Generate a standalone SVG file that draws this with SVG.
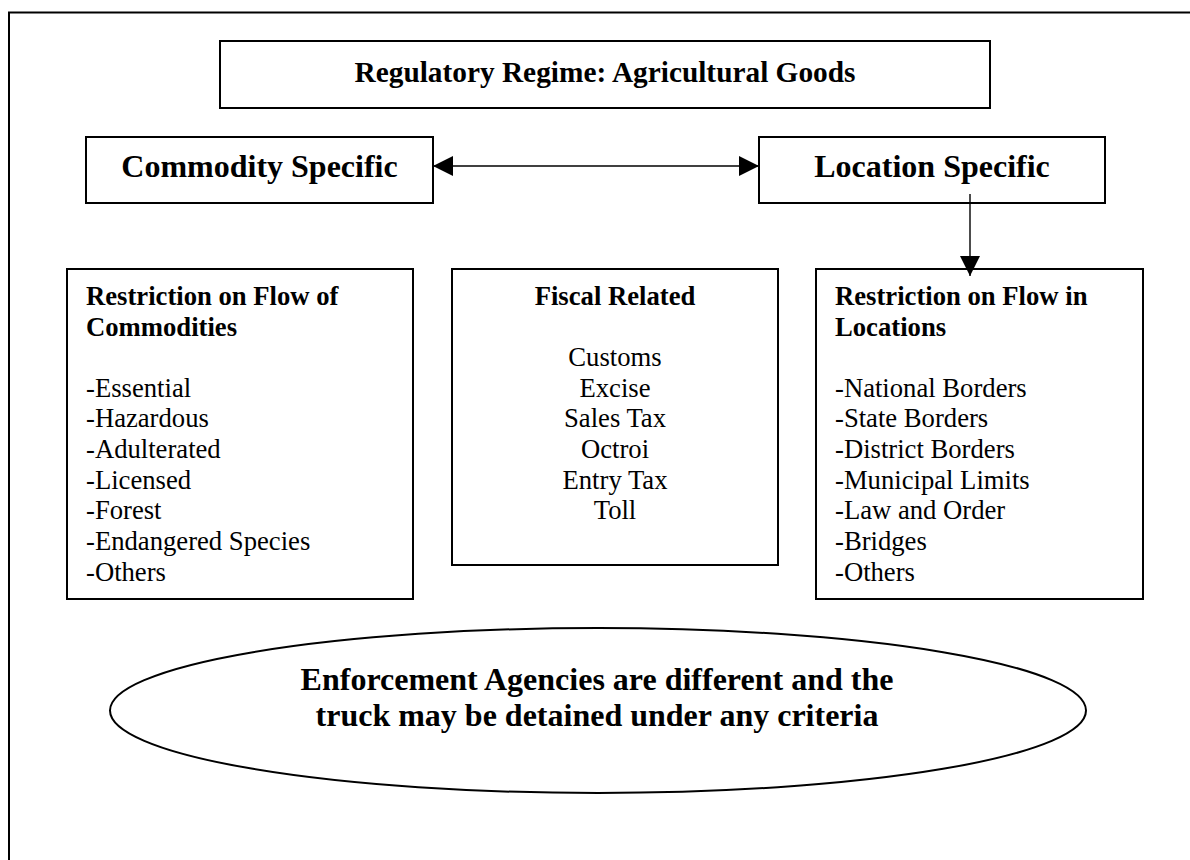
<svg xmlns="http://www.w3.org/2000/svg" width="1190" height="860" viewBox="0 0 1190 860">
<defs>
<style>
.box{fill:#fff;stroke:#000;stroke-width:2}
.t{font-family:"Liberation Serif","Times New Roman",serif;fill:#000}
.b{font-weight:bold}
.h32{font-size:32px}
.s27{font-size:26.67px}
.conn{stroke:#000;stroke-width:1.4;fill:none}
</style>
<marker id="ah" viewBox="0 0 20 20" refX="20" refY="10" markerWidth="20" markerHeight="20" markerUnits="userSpaceOnUse" orient="auto-start-reverse">
<path d="M0,0 L20,10 L0,20 z" fill="#000"/>
</marker>
</defs>
<rect width="1190" height="860" fill="#fff"/>
<g id="frame">
<path d="M9,860 V12.5 H1190" fill="none" stroke="#000" stroke-width="2"/>
</g>
<g id="node-regime">
<rect class="box" x="220" y="41" width="770" height="67"/>
<text class="t b" x="605" y="82" text-anchor="middle" font-size="29.33">Regulatory Regime: Agricultural Goods</text>
</g>
<g id="node-commodity">
<rect class="box" x="86" y="137" width="347" height="66"/>
<text class="t b h32" x="259.5" y="177" text-anchor="middle">Commodity Specific</text>
</g>
<g id="node-location">
<rect class="box" x="759" y="137" width="346" height="66"/>
<text class="t b h32" x="932" y="177" text-anchor="middle">Location Specific</text>
</g>
<g id="node-restriction-commodities">
<rect class="box" x="67" y="269" width="346" height="330"/>
<text class="t b s27" x="86" y="305">Restriction on Flow of</text>
<text class="t b s27" x="86" y="335.7">Commodities</text>
<text class="t s27" x="86" y="396.7">-Essential</text>
<text class="t s27" x="86" y="427.4">-Hazardous</text>
<text class="t s27" x="86" y="458">-Adulterated</text>
<text class="t s27" x="86" y="488.7">-Licensed</text>
<text class="t s27" x="86" y="519.4">-Forest</text>
<text class="t s27" x="86" y="550">-Endangered Species</text>
<text class="t s27" x="86" y="580.7">-Others</text>
</g>
<g id="node-fiscal">
<rect class="box" x="452" y="269" width="326" height="296"/>
<text class="t b s27" x="615" y="305" text-anchor="middle">Fiscal Related</text>
<text class="t s27" x="615" y="366" text-anchor="middle">Customs</text>
<text class="t s27" x="615" y="396.7" text-anchor="middle">Excise</text>
<text class="t s27" x="615" y="427.4" text-anchor="middle">Sales Tax</text>
<text class="t s27" x="615" y="458" text-anchor="middle">Octroi</text>
<text class="t s27" x="615" y="488.7" text-anchor="middle">Entry Tax</text>
<text class="t s27" x="615" y="519.4" text-anchor="middle">Toll</text>
</g>
<g id="node-restriction-locations">
<rect class="box" x="816" y="269" width="327" height="330"/>
<text class="t b s27" x="835" y="305">Restriction on Flow in</text>
<text class="t b s27" x="835" y="335.7">Locations</text>
<text class="t s27" x="835" y="396.7">-National Borders</text>
<text class="t s27" x="835" y="427.4">-State Borders</text>
<text class="t s27" x="835" y="458">-District Borders</text>
<text class="t s27" x="835" y="488.7">-Municipal Limits</text>
<text class="t s27" x="835" y="519.4">-Law and Order</text>
<text class="t s27" x="835" y="550">-Bridges</text>
<text class="t s27" x="835" y="580.7">-Others</text>
</g>
<g id="node-enforcement">
<ellipse cx="598" cy="710.5" rx="488" ry="82.5" fill="#fff" stroke="#000" stroke-width="2"/>
<text class="t b h32" x="597" y="690" text-anchor="middle">Enforcement Agencies are different and the</text>
<text class="t b h32" x="597" y="726" text-anchor="middle">truck may be detained under any criteria</text>
</g>
<g id="connectors">
<line class="conn" x1="433" y1="166" x2="759" y2="166" marker-start="url(#ah)" marker-end="url(#ah)"/>
<line class="conn" x1="970" y1="194" x2="970" y2="276" marker-end="url(#ah)"/>
</g>
</svg>
